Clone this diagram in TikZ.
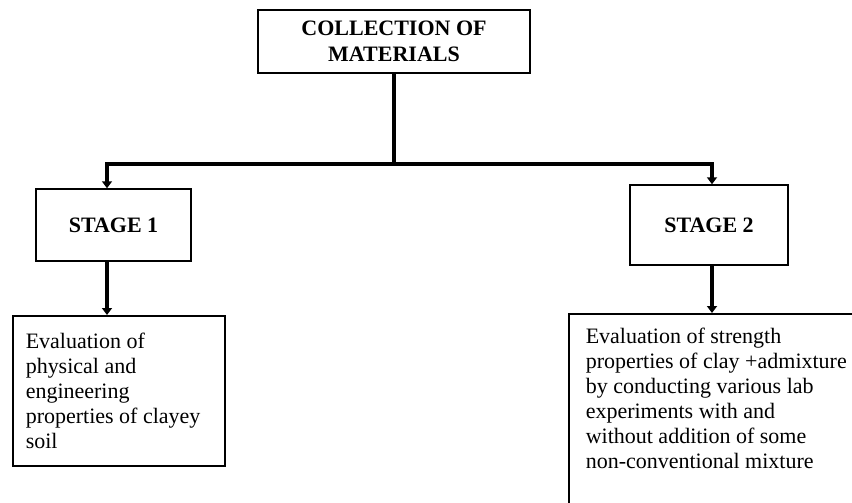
\documentclass[tikz,border=0pt]{standalone}
\usepackage{fontspec}
\setmainfont{Liberation Serif}
\usetikzlibrary{arrows.meta}

\begin{document}
\begin{tikzpicture}[x=1pt,y=-1pt,
    box/.style={draw,line width=1.5pt,font=\fontsize{22pt}{25pt}\selectfont},
    link/.style={line width=4pt},
    arr/.style={line width=4pt,-{Triangle[width=10pt,length=7pt]}}]
    % Definitions
    \useasboundingbox (0,0) rectangle (852,503);
    \coordinate (CM) at (394,41.5);
    \coordinate (S1) at (113.5,225);
    \coordinate (S2) at (709,225);
    \coordinate (E1) at (12,315);
    \coordinate (E2) at (568,313);
    \coordinate (HB) at (394,164);
    \coordinate (BL) at (107,164);
    \coordinate (BR) at (712,164);
    % Nodes
    \node(CoMa) at (CM) [box,minimum width=272pt,minimum height=63pt,align=center] {\textbf{COLLECTION OF}\\[1pt]\textbf{MATERIALS}};
    \node(StOne) at (S1) [box,minimum width=155pt,minimum height=72pt] {\textbf{STAGE 1}};
    \node(StTwo) at (S2) [box,minimum width=158pt,minimum height=80pt] {\textbf{STAGE 2}};
    \node(EvPh) at (E1) [box,anchor=north west,text width=186pt,inner xsep=13pt,minimum height=150pt,align=flush left] {Evaluation of\\physical and\\engineering\\properties of clayey\\soil};
    \node(EvSt) at (E2) [box,anchor=north west,inner xsep=17pt,inner ysep=14pt] {\parbox[t][200pt][t]{280pt}{\raggedright Evaluation of strength\\properties of clay +admixture\\by conducting various lab\\experiments with and\\without addition of some\\non-conventional mixture}};
    % Arrows
    \draw[link] (CoMa.south) -- (HB);
    \draw[arr]  (HB) -- (BL) -- (BL |- StOne.north);
    \draw[arr]  (HB) -- (BR) -- (BR |- StTwo.north);
    \draw[arr]  (BL |- StOne.south) -- (BL |- EvPh.north);
    \draw[arr]  (BR |- StTwo.south) -- (BR |- EvSt.north);
\end{tikzpicture}
\end{document}
